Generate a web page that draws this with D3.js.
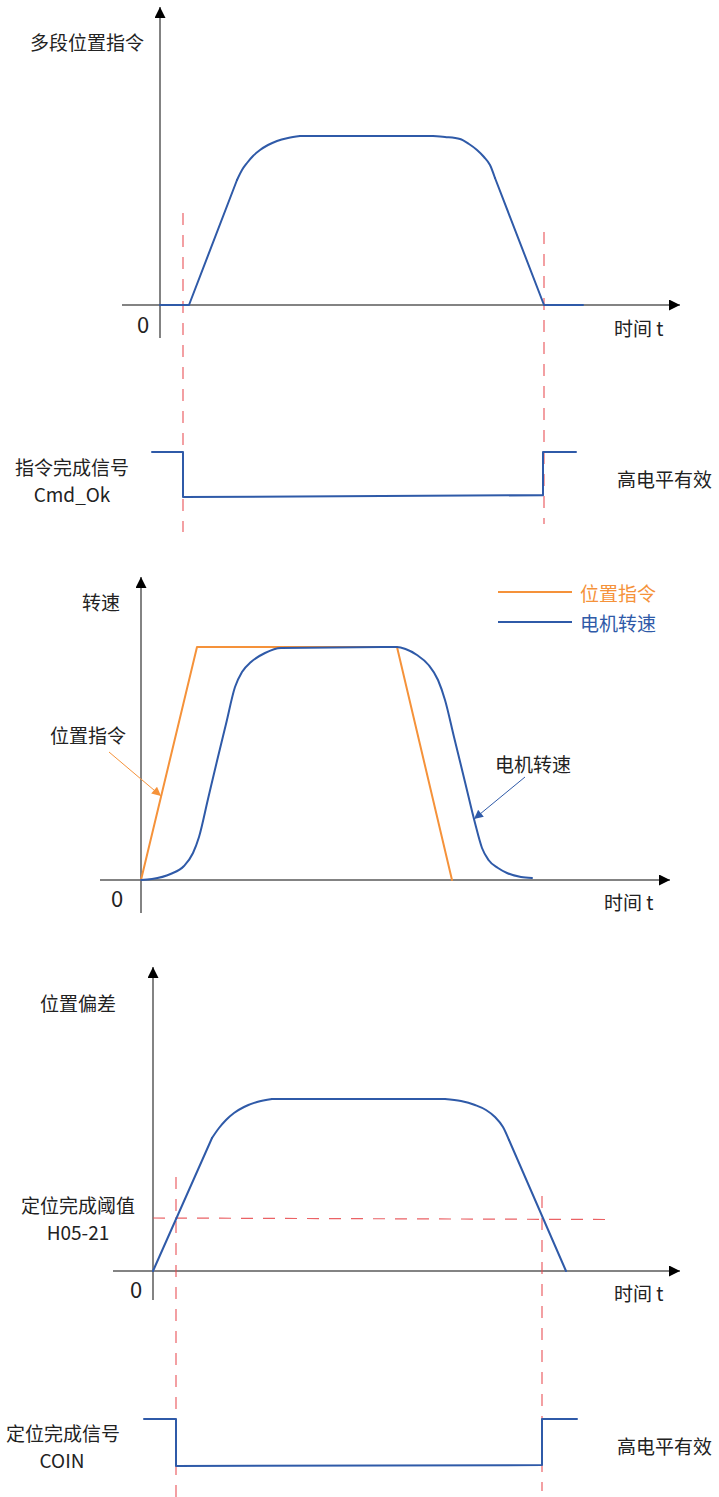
<!DOCTYPE html>
<html>
<head>
<meta charset="utf-8">
<script src="https://cdn.jsdelivr.net/npm/d3@7"></script>
<style>
  html, body { margin: 0; padding: 0; background: #fff; }
  svg { display: block; }
  text { font-family: "Noto Sans CJK SC", "Noto Sans", sans-serif; fill: #222; }
</style>
</head>
<body>
<svg id="chart" width="719" height="1497"></svg>
<script>
// ---------- DATA ----------
// Panel 1: multi-segment position command
const p1Time = [0, 29, 77, 82, 87, 93, 100, 108, 117, 128, 140, 273, 285, 300, 309, 317, 324, 330, 335, 384, 423];
const p1Pos  = [0, 0, 125, 135, 142, 149, 155, 160, 164, 167, 169, 169, 168, 166, 161, 155, 148, 140, 127, 0, 0];
const p1Marks = [23, 384];
const p1SigTime  = [-8, 23, 23, 383, 383, 416];
const p1SigLevel = [1, 1, 0, 0.04, 1, 1];

// Panel 2: speed
const p2CmdTime = [0, 56, 256, 311];
const p2Cmd     = [0, 233, 233, 0];
const p2MotorTime = [0, 11, 29.5, 43, 52, 58, 67, 76, 85, 94, 101, 110, 124, 140, 256, 264.5, 276, 287.6, 297, 304, 313, 324, 334, 341, 347.5, 357, 366, 380, 391];
const p2Motor     = [0, 1, 6, 14, 27, 43, 81, 119, 156, 193, 208, 218, 227, 232, 233, 231, 225, 215, 200, 180, 143, 98, 57, 32, 20, 12, 7, 3, 2];

// Panel 3: position error
const p3Time = [0, 59, 66, 73, 81, 91, 104, 119, 292, 308, 322, 333, 342, 350, 356, 413];
const p3Err  = [0, 133, 143, 151, 158, 164, 169, 172, 172, 170, 166, 161, 154, 144, 131, 0];
const p3Threshold = 53;
const p3ThresholdEnd = 452;
const p3Marks = [23, 389];
const p3SigTime  = [-9, 23, 23, 389, 389, 424];
const p3SigLevel = [1, 1, 0, 0.02, 1, 1];

// Labels
const txt = {
  p1Y: "多段位置指令", t: "时间 t", zero: "0",
  sig1a: "指令完成信号", sig1b: "Cmd_Ok", high: "高电平有效",
  p2Y: "转速", legCmd: "位置指令", legMotor: "电机转速",
  annCmd: "位置指令", annMotor: "电机转速",
  p3Y: "位置偏差", thrA: "定位完成阈值", thrB: "H05-21",
  sig3a: "定位完成信号", sig3b: "COIN"
};

// ---------- STYLE ----------
const BLUE = "#2f5aa8", ORANGE = "#f5923a", RED = "#e8474b", AXIS = "#5a5a5a";
const FS = 19;

const svg = d3.select("#chart");
const defs = svg.append("defs");
function marker(id, color, w, h) {
  defs.append("marker").attr("id", id)
    .attr("viewBox", "0 0 10 10").attr("refX", 10).attr("refY", 5)
    .attr("markerWidth", w).attr("markerHeight", h)
    .attr("markerUnits", "userSpaceOnUse").attr("orient", "auto")
    .append("path").attr("d", "M0,0 L10,5 L0,10 Z").attr("fill", color);
}
marker("axArrow", "#000", 13, 11);
marker("orArrow", ORANGE, 10, 9);
marker("blArrow", BLUE, 10, 9);

function label(x, y, s, opts = {}) {
  return svg.append("text").attr("x", x).attr("y", y)
    .attr("dominant-baseline", "central")
    .attr("text-anchor", opts.anchor || "start")
    .style("font-size", (opts.size || FS) + "px")
    .style("fill", opts.color || "#222")
    .text(s);
}

function axes(x, y, xd, yd) {
  svg.append("line").attr("x1", x(xd[0])).attr("x2", x(xd[1]))
    .attr("y1", y(0)).attr("y2", y(0))
    .attr("stroke", AXIS).attr("stroke-width", 1.5).attr("marker-end", "url(#axArrow)");
  svg.append("line").attr("x1", x(0)).attr("x2", x(0))
    .attr("y1", y(yd[0])).attr("y2", y(yd[1]))
    .attr("stroke", AXIS).attr("stroke-width", 1.5).attr("marker-end", "url(#axArrow)");
}

// runs: list of [startIndex, endIndex, smooth?]
function pathLine(xs, vs, x, y, color, runs, width = 2) {
  const pts = xs.map((t, i) => [t, vs[i]]);
  if (!runs) runs = [[0, pts.length - 1, false]];
  runs.forEach(([a, b, smooth]) => {
    svg.append("path").datum(pts.slice(a, b + 1))
      .attr("d", d3.line().x(d => x(d[0])).y(d => y(d[1]))
        .curve(smooth ? d3.curveMonotoneX : d3.curveLinear))
      .attr("fill", "none").attr("stroke", color).attr("stroke-width", width)
      .attr("stroke-linejoin", "round").attr("stroke-linecap", "round");
  });
}

function dashV(xpx, y1, y2) {
  svg.append("line").attr("x1", xpx).attr("x2", xpx).attr("y1", y1).attr("y2", y2)
    .attr("stroke", RED).attr("stroke-width", 1.2).attr("stroke-dasharray", "12,10")
    .attr("opacity", 0.85);
}

// ---------- PANEL 1 ----------
{
  const xd = [-38, 520], yd = [-33, 298];
  const x = d3.scaleLinear().domain(xd).range([122, 680]);
  const y = d3.scaleLinear().domain([0, 295]).range([305, 10]);
  const ys = d3.scaleLinear().domain([0, 1]).range([497, 452]);
  axes(x, y, xd, yd);
  dashV(x(p1Marks[0]), 213, 532);
  dashV(x(p1Marks[1]), 232, 524);
  pathLine(p1Time, p1Pos, x, y, BLUE, [[0, 2, false], [2, 10, true], [10, 11, false], [11, 18, true], [18, 20, false]]);
  pathLine(p1SigTime, p1SigLevel, x, ys, BLUE);
  label(30, 41, txt.p1Y);
  label(143, 323, txt.zero, { anchor: "middle", size: 22 });
  label(614, 327, txt.t);
  label(72, 466, txt.sig1a, { anchor: "middle" });
  label(72, 493, txt.sig1b, { anchor: "middle" });
  label(617, 478, txt.high);
}

// ---------- PANEL 2 ----------
{
  const xd = [-41, 529], yd = [-33, 303];
  const x = d3.scaleLinear().domain(xd).range([100, 670]);
  const y = d3.scaleLinear().domain([0, 303]).range([880, 577]);
  axes(x, y, xd, yd);
  pathLine(p2CmdTime, p2Cmd, x, y, ORANGE);
  pathLine(p2MotorTime, p2Motor, x, y, BLUE, [[0, p2MotorTime.length - 1, true]]);
  // legend
  svg.append("line").attr("x1", 498).attr("x2", 572).attr("y1", 592).attr("y2", 592)
    .attr("stroke", ORANGE).attr("stroke-width", 2);
  label(580, 592, txt.legCmd, { color: ORANGE });
  svg.append("line").attr("x1", 498).attr("x2", 572).attr("y1", 622).attr("y2", 622)
    .attr("stroke", BLUE).attr("stroke-width", 2);
  label(580, 622, txt.legMotor, { color: BLUE });
  // annotations
  label(50, 734, txt.annCmd);
  svg.append("line").attr("x1", 109).attr("y1", 752).attr("x2", 161).attr("y2", 796)
    .attr("stroke", ORANGE).attr("stroke-width", 1).attr("marker-end", "url(#orArrow)");
  label(495, 763, txt.annMotor);
  svg.append("line").attr("x1", 525).attr("y1", 777).attr("x2", 474).attr("y2", 819)
    .attr("stroke", BLUE).attr("stroke-width", 1).attr("marker-end", "url(#blArrow)");
  label(117, 897, txt.zero, { anchor: "middle", size: 22 });
  label(604, 901, txt.t);
  label(82, 601, txt.p2Y);
}

// ---------- PANEL 3 ----------
{
  const xd = [-40, 527], yd = [-29, 304];
  const x = d3.scaleLinear().domain(xd).range([113, 680]);
  const y = d3.scaleLinear().domain([0, 304]).range([1271, 967]);
  const ys = d3.scaleLinear().domain([0, 1]).range([1466, 1419]);
  axes(x, y, xd, yd);
  svg.append("line").attr("x1", x(0)).attr("x2", x(p3ThresholdEnd))
    .attr("y1", y(p3Threshold)).attr("y2", y(p3Threshold) + 1.5)
    .attr("stroke", RED).attr("stroke-width", 1.2).attr("stroke-dasharray", "12,10").attr("opacity", 0.85);
  dashV(x(p3Marks[0]), 1177, 1497);
  dashV(x(p3Marks[1]), 1196, 1491);
  pathLine(p3Time, p3Err, x, y, BLUE, [[0, 1, false], [1, 7, true], [7, 8, false], [8, 14, true], [14, 15, false]]);
  pathLine(p3SigTime, p3SigLevel, x, ys, BLUE);
  label(40, 1002, txt.p3Y);
  label(136, 1288, txt.zero, { anchor: "middle", size: 22 });
  label(614, 1292, txt.t);
  label(78, 1204, txt.thrA, { anchor: "middle" });
  label(78, 1231, txt.thrB, { anchor: "middle" });
  label(63, 1432, txt.sig3a, { anchor: "middle" });
  label(62, 1459, txt.sig3b, { anchor: "middle" });
  label(617, 1445, txt.high);
}
</script>
</body>
</html>
